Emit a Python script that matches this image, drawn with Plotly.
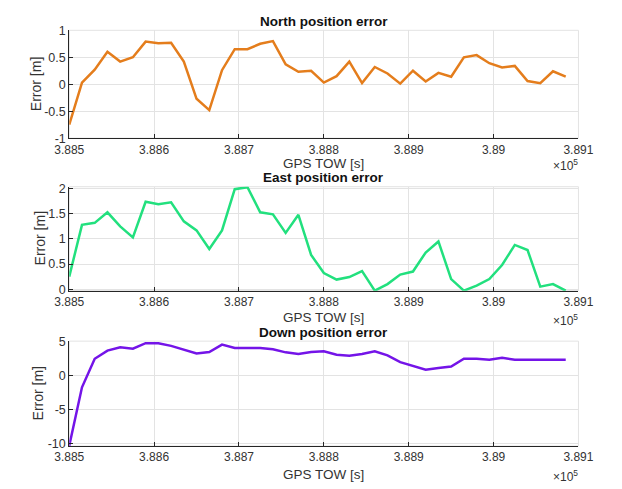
import plotly.graph_objects as go

W, H = 622, 489
t0 = 388500
dt = 15
n = 40
tow = [t0 + dt * i for i in range(n)]

north = [-0.75, 0.03, 0.27, 0.60, 0.42, 0.50, 0.79, 0.76, 0.77, 0.42,
         -0.27, -0.48, 0.26, 0.65, 0.65, 0.75, 0.80, 0.37, 0.23, 0.25,
         0.03, 0.15, 0.42, 0.02, 0.32, 0.20, 0.01, 0.25, 0.05, 0.21,
         0.14, 0.50, 0.54, 0.39, 0.31, 0.34, 0.06, 0.02, 0.24, 0.14]
east = [0.25, 1.28, 1.32, 1.53, 1.25, 1.03, 1.74, 1.69, 1.73, 1.35,
        1.17, 0.80, 1.17, 1.99, 2.03, 1.53, 1.49, 1.12, 1.48, 0.68,
        0.32, 0.19, 0.24, 0.36, -0.03, 0.10, 0.29, 0.35, 0.73, 0.95,
        0.20, -0.03, 0.07, 0.20, 0.48, 0.88, 0.78, 0.05, 0.10, -0.03]
down = [-10.3, -1.7, 2.5, 3.7, 4.2, 4.0, 4.8, 4.8, 4.4, 3.8,
        3.3, 3.5, 4.6, 4.1, 4.15, 4.1, 3.9, 3.45, 3.2, 3.5,
        3.6, 3.1, 2.95, 3.2, 3.6, 3.0, 2.0, 1.5, 0.9, 1.15,
        1.35, 2.5, 2.5, 2.35, 2.65, 2.35, 2.35, 2.35, 2.3, 2.35]

titles = ["North position error", "East position error", "Down position error"]
x_tickvals = [388500, 388600, 388700, 388800, 388900, 389000, 389100]
x_ticktext = ["3.885", "3.886", "3.887", "3.888", "3.889", "3.89", "3.891"]
y_ticks = [[-1, -0.5, 0, 0.5, 1], [0, 0.5, 1, 1.5, 2], [-10, -5, 0, 5]]
y_texts = [["-1", "-0.5", "0", "0.5", "1"], ["0", "0.5", "1", "1.5", "2"], ["-10", "-5", "0", "5"]]
y_ranges = [[-1, 1], [-0.03, 2.04], [-10.35, 5.1]]
colors = ["#E47D1C", "#22E07E", "#7414E8"]
series = [north, east, down]

# pixel geometry of the three axes boxes (top, bottom)
left_px, right_px = 57, 592
boxes = [(24, 135), (185, 292), (344, 452)]
ylab_x = [22, 26, 24]
xlab_y = [161, 320, 481]

fig = go.Figure()
layout = dict(width=W, height=H, margin=dict(l=0, r=0, t=0, b=0),
              paper_bgcolor="white", plot_bgcolor="white", showlegend=False,
              font=dict(family="Liberation Sans, Arial", size=12.5, color="#333333"))
annotations = []
shapes = []
for i in range(3):
    k = "" if i == 0 else str(i + 1)
    top, bot = boxes[i]
    ydom = [1 - bot / H, 1 - top / H]
    xdom = [left_px / W, right_px / W]
    fig.add_trace(go.Scatter(x=tow, y=series[i], mode="lines",
                             line=dict(color=colors[i], width=2.5),
                             xaxis="x" + k, yaxis="y" + k))
    layout["xaxis" + k] = dict(domain=xdom, anchor="y" + k, range=[388500, 389100],
                               tickvals=x_tickvals, ticktext=x_ticktext,
                               ticks="inside", ticklen=4, tickcolor="#262626",
                               showline=True, linecolor="#262626", linewidth=1,
                               showgrid=True, gridcolor="#E3E3E3", gridwidth=1,
                               zeroline=False, tickfont=dict(size=12, color="#333333"),
                               fixedrange=True)
    layout["yaxis" + k] = dict(domain=ydom, anchor="x" + k, range=y_ranges[i],
                               tickvals=y_ticks[i], ticktext=y_texts[i],
                               ticks="inside", ticklen=4, tickcolor="#262626",
                               showline=True, linecolor="#262626", linewidth=1,
                               showgrid=True, gridcolor="#E3E3E3", gridwidth=1,
                               zeroline=False, tickfont=dict(size=12.5, color="#333333"),
                               fixedrange=True)
    shapes.append(dict(type="rect", xref="paper", yref="paper",
                       x0=xdom[0], x1=xdom[1], y0=ydom[0], y1=ydom[1],
                       line=dict(color="#E3E3E3", width=1), layer="below"))
    annotations.append(dict(text="<b>" + titles[i] + "</b>", xref="paper", yref="paper",
                            x=(left_px + right_px) / 2 / W, y=1 - (top - 9) / H,
                            showarrow=False, font=dict(size=13.5, color="#111111"),
                            xanchor="center", yanchor="middle"))
    annotations.append(dict(text="GPS TOW [s]", xref="paper", yref="paper",
                            x=(left_px + right_px) / 2 / W, y=1 - xlab_y[i] / H,
                            showarrow=False, font=dict(size=13.5, color="#333333"),
                            xanchor="center", yanchor="middle"))
    annotations.append(dict(text="\u00d710<sup>5</sup>", xref="paper", yref="paper",
                            x=578 / W, y=1 - (xlab_y[i] + 2) / H,
                            showarrow=False, font=dict(size=12, color="#333333"),
                            xanchor="center", yanchor="middle"))
    annotations.append(dict(text="Error [m]", xref="paper", yref="paper",
                            x=ylab_x[i] / W, y=1 - (top + bot) / 2 / H, textangle=-90,
                            showarrow=False, font=dict(size=14, color="#333333"),
                            xanchor="center", yanchor="middle"))

layout["annotations"] = annotations
layout["shapes"] = shapes
fig.update_layout(**layout)
fig.write_html("out.html")
